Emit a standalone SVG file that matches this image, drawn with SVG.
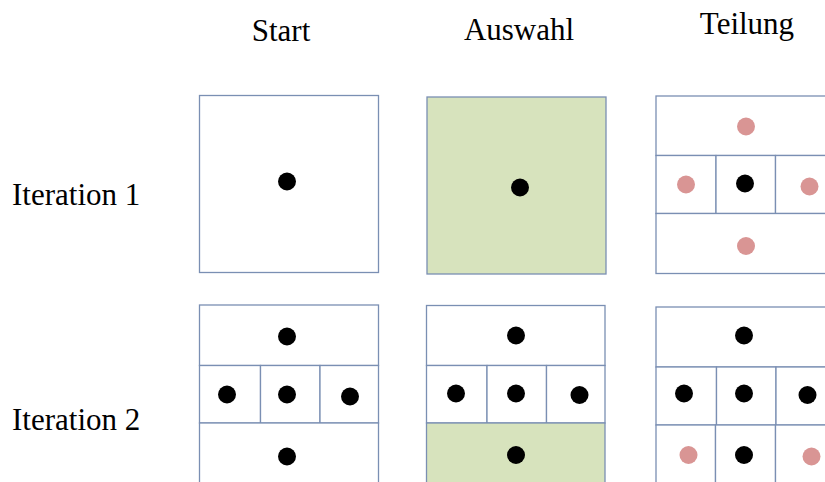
<svg xmlns="http://www.w3.org/2000/svg" width="825" height="482" viewBox="0 0 825 482">
  <style>
    .label { font-family: "Liberation Serif", "Times New Roman", serif; font-size: 31px; fill: #000; }
    .cell { fill: #fff; stroke: #7a8fb3; stroke-width: 1.3; }
    .sel { fill: #d7e3bd; stroke: #7a8fb3; stroke-width: 1.3; }
    .pt { fill: #000; }
    .new { fill: #d99594; }
  </style>

  <!-- column and row headings -->
  <g id="headings">
    <text class="label" x="281" y="41" text-anchor="middle">Start</text>
    <text class="label" x="519" y="40" text-anchor="middle">Auswahl</text>
    <text class="label" x="747" y="34" text-anchor="middle">Teilung</text>
    <text class="label" x="12" y="205">Iteration 1</text>
    <text class="label" x="12" y="430">Iteration 2</text>
  </g>

  <!-- iteration 1: start -->
  <g id="it1-start">
    <rect class="cell" x="199.5" y="95.5" width="179" height="177"/>
    <circle class="pt" cx="287" cy="181.5" r="9"/>
  </g>

  <!-- iteration 1: selected cell -->
  <g id="it1-select">
    <rect class="sel" x="427" y="97" width="179" height="177"/>
    <circle class="pt" cx="520" cy="187.5" r="9"/>
  </g>

  <!-- iteration 1: split into five cells -->
  <g id="it1-split">
    <rect class="cell" x="656" y="96" width="180" height="59.5"/>
    <rect class="cell" x="656" y="155.5" width="60" height="58"/>
    <rect class="cell" x="716" y="155.5" width="59.5" height="58"/>
    <rect class="cell" x="775.5" y="155.5" width="60" height="58"/>
    <rect class="cell" x="656" y="213.5" width="180" height="60"/>
    <circle class="new" cx="746" cy="126.5" r="9"/>
    <circle class="new" cx="686" cy="184.5" r="9"/>
    <circle class="pt" cx="745" cy="183.5" r="9"/>
    <circle class="new" cx="809.5" cy="186.5" r="9"/>
    <circle class="new" cx="746" cy="246" r="9"/>
  </g>

  <!-- iteration 2: start -->
  <g id="it2-start">
    <rect class="cell" x="199.5" y="305" width="179" height="60.5"/>
    <rect class="cell" x="199.5" y="365.5" width="61" height="57.5"/>
    <rect class="cell" x="260.5" y="365.5" width="59.5" height="57.5"/>
    <rect class="cell" x="320" y="365.5" width="58.5" height="57.5"/>
    <rect class="cell" x="199.5" y="423" width="179" height="70"/>
    <circle class="pt" cx="287" cy="336.5" r="9"/>
    <circle class="pt" cx="227" cy="394.5" r="9"/>
    <circle class="pt" cx="287" cy="394.5" r="9"/>
    <circle class="pt" cx="350" cy="396.5" r="9"/>
    <circle class="pt" cx="287" cy="456.5" r="9"/>
  </g>

  <!-- iteration 2: selected cell -->
  <g id="it2-select">
    <rect class="cell" x="426.5" y="305.5" width="178.5" height="60"/>
    <rect class="cell" x="426.5" y="365.5" width="60.5" height="57.5"/>
    <rect class="cell" x="487" y="365.5" width="59.5" height="57.5"/>
    <rect class="cell" x="546.5" y="365.5" width="58.5" height="57.5"/>
    <rect class="sel" x="426.5" y="423" width="178.5" height="70"/>
    <circle class="pt" cx="516" cy="335.5" r="9"/>
    <circle class="pt" cx="456" cy="393.5" r="9"/>
    <circle class="pt" cx="516" cy="393.5" r="9"/>
    <circle class="pt" cx="579.5" cy="395" r="9"/>
    <circle class="pt" cx="516" cy="455" r="9"/>
  </g>

  <!-- iteration 2: split of the selected cell -->
  <g id="it2-split">
    <rect class="cell" x="656" y="307" width="180" height="60"/>
    <rect class="cell" x="656" y="367" width="60.5" height="58"/>
    <rect class="cell" x="716.5" y="367" width="59.5" height="58"/>
    <rect class="cell" x="776" y="367" width="60" height="58"/>
    <rect class="cell" x="656" y="425" width="59.5" height="70"/>
    <rect class="cell" x="715.5" y="425" width="60" height="70"/>
    <rect class="cell" x="775.5" y="425" width="60" height="70"/>
    <circle class="pt" cx="744" cy="335.5" r="9"/>
    <circle class="pt" cx="684" cy="393.5" r="9"/>
    <circle class="pt" cx="744" cy="393.5" r="9"/>
    <circle class="pt" cx="807.5" cy="395" r="9"/>
    <circle class="new" cx="688.5" cy="455" r="9"/>
    <circle class="pt" cx="744" cy="455" r="9"/>
    <circle class="new" cx="811.5" cy="456.5" r="9"/>
  </g>
</svg>
